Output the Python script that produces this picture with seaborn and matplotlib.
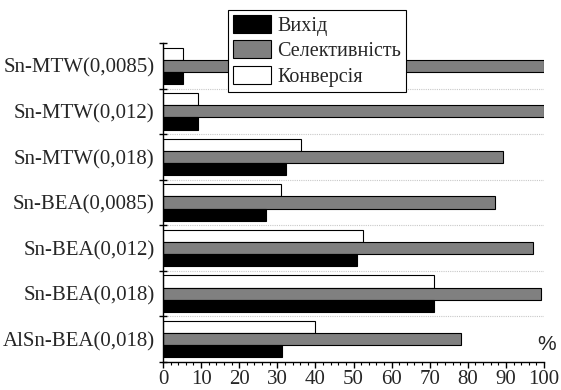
import matplotlib
matplotlib.use("Agg")
import matplotlib.pyplot as plt
from matplotlib.ticker import MultipleLocator, FixedLocator
import seaborn as sns
import pandas as pd

catalysts = ["Sn-MTW(0,0085)", "Sn-MTW(0,012)", "Sn-MTW(0,018)", "Sn-BEA(0,0085)",
             "Sn-BEA(0,012)", "Sn-BEA(0,018)", "AlSn-BEA(0,018)"]
conversion = [5.2, 9.2, 36.2, 31.0, 52.4, 71.1, 39.9]
selectivity = [100, 100, 89.2, 87.1, 97.2, 99.2, 78.1]
yield_ = [5.2, 9.2, 32.2, 27.0, 50.9, 71.2, 31.2]
series = ["Конверсія", "Селективність", "Вихід"]
colors = ["white", "#808080", "black"]

rows = []
for name, vals in zip(series, [conversion, selectivity, yield_]):
    for cat, v in zip(catalysts, vals):
        rows.append([cat, name, v])
df = pd.DataFrame(rows, columns=["catalyst", "series", "value"])

sns.set_style("ticks")
plt.rcParams["font.family"] = ["Liberation Serif", "DejaVu Serif"]

fig = plt.figure(figsize=(5.61, 3.90), dpi=100)
ax = fig.add_axes([163 / 561, 1 - 362 / 390, 381 / 561, 319 / 390])

sns.barplot(data=df, y="catalyst", x="value", hue="series", hue_order=series,
            order=catalysts, palette=colors, orient="h", width=0.8,
            edgecolor="black", linewidth=0.8, saturation=1, ax=ax, legend=False)

ax.set_xlim(0, 100)
ax.set_ylim(len(catalysts) - 0.5, -0.5)
ax.set_xlabel("")
ax.set_ylabel("")
sns.despine(ax=ax)
for s in ["left", "bottom"]:
    ax.spines[s].set_color("black")
    ax.spines[s].set_linewidth(1.0)

# category boundaries: ticks crossing the spine + dotted grid
bounds = [i - 0.5 for i in range(len(catalysts) + 1)]
ax.yaxis.set_minor_locator(FixedLocator(bounds))
ax.tick_params(axis="y", which="major", length=0, labelsize=15, pad=6)
ax.tick_params(axis="y", which="minor", direction="inout", length=6, width=1, color="black")
for b in bounds[1:-1]:
    ax.axhline(b, color="#c8c8c8", linestyle=(0, (1, 1)), linewidth=0.8, zorder=0)

ax.xaxis.set_major_locator(MultipleLocator(10))
ax.xaxis.set_minor_locator(MultipleLocator(2))
ax.tick_params(axis="x", which="major", direction="out", length=4, width=1, color="black", labelsize=15, pad=2)
ax.tick_params(axis="x", which="minor", direction="out", length=2.5, width=0.8, color="black")

# legend (reverse order)
handles = [plt.Rectangle((0, 0), 1, 1, facecolor=c, edgecolor="black", linewidth=0.8)
           for c in colors]
leg = fig.legend(handles[::-1], series[::-1], loc="upper left",
                 bbox_to_anchor=(228 / 561, 1 - 10 / 390), bbox_transform=fig.transFigure,
                 fontsize=14.5, frameon=True, fancybox=False, edgecolor="black",
                 framealpha=1, borderpad=0.25, labelspacing=0.22, handlelength=1.9,
                 handleheight=1.0, handletextpad=0.3, borderaxespad=0)
leg.get_frame().set_linewidth(0.8)

fig.text(547 / 561, 1 - 344 / 390, "%", family="Liberation Sans", fontsize=15,
         ha="center", va="center")

fig.savefig("out.png", dpi=100)
